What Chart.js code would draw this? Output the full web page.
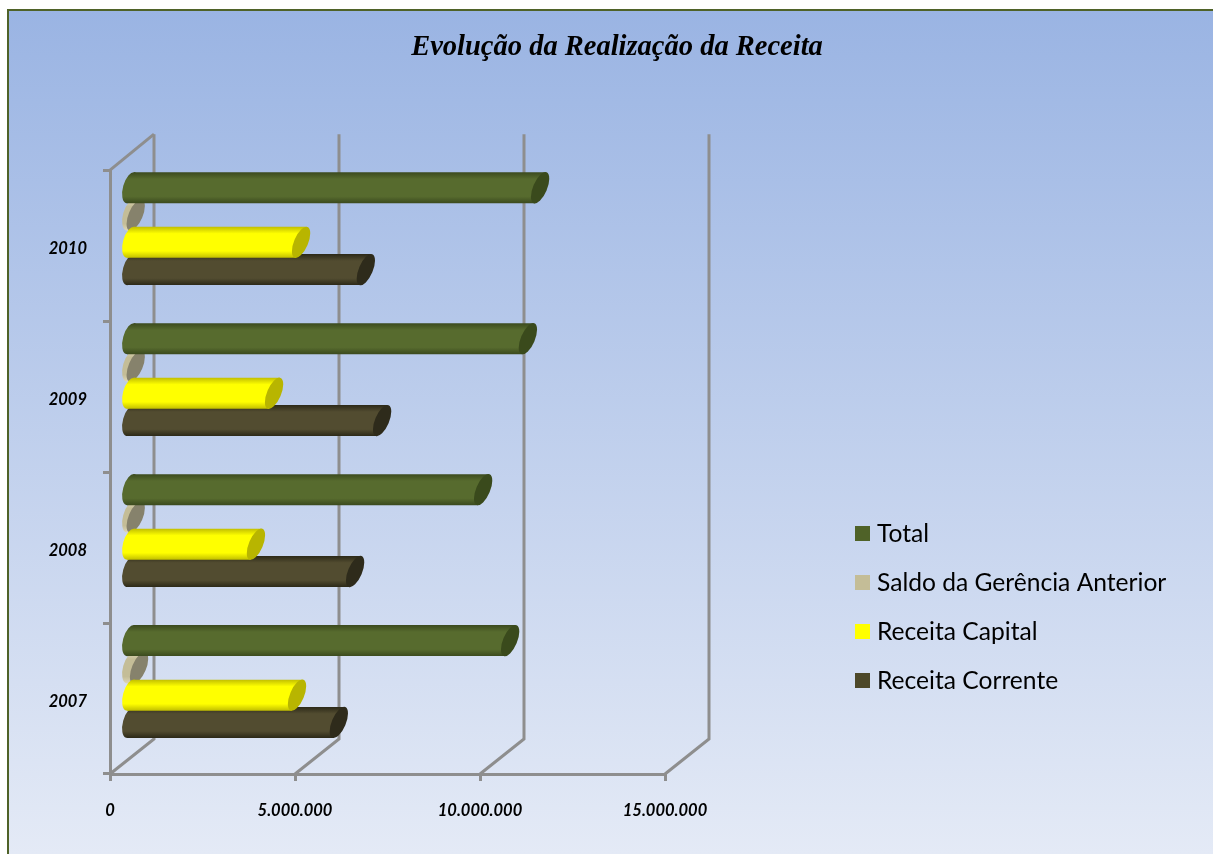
<!DOCTYPE html>
<html>
<head>
<meta charset="utf-8">
<title>Evolução da Realização da Receita</title>
<script src="https://cdn.jsdelivr.net/npm/chart.js@4"></script>
<style>
    html, body { margin: 0; padding: 0; background: #fff; }
    canvas { display: block; }
</style>
</head>
<body>
<canvas id="receita" width="1213" height="854"></canvas>
<script>
const anos = ['2010', '2009', '2008', '2007'];
const total = [11030000, 10700000, 9490000, 10220000];
const saldo = [100000, 100000, 100000, 190000];
const capital = [4570000, 3840000, 3350000, 4460000];
const corrente = [6320000, 6760000, 6030000, 5590000];
const xTicks = [0, 5000000, 10000000, 15000000];
const xTickLabels = ['0', '5.000.000', '10.000.000', '15.000.000'];

// legend colour, cylinder edge, cylinder middle, end cap
const cores = [
    ['#4f6228', '#3b4a1e', '#576b2e', '#3a4a1c'],
    ['#c4bd97', '#ddd6b6', '#c4bd97', '#86826c'],
    ['#ffff00', '#c2bf00', '#ffff00', '#b8b500'],
    ['#4d4829', '#2c2918', '#524c30', '#2e2b1b']
];
const grey = '#8e8e8e';
const depthX = 44, depthY = -35, wallTop = -36;   // back wall offset
const midX = 22, midY = -17;                      // bars stand half way in
const endCap = { a: 16.7, b: 7, tilt: 0.4, top: 5.4 };
const startCap = { a: 16, b: 7.5, tilt: 0.273, top: 3.5, shift: -3 };

// the 3D walls behind the bars
const walls = {
    id: 'walls',
    beforeDraw(chart) {
        const c = chart.ctx, w = chart.width, h = chart.height;
        c.save();
        c.fillStyle = '#fff';
        c.fillRect(0, 0, w, h);
        const g = c.createLinearGradient(0, 10, 0, h);
        g.addColorStop(0, '#9ab4e3');
        g.addColorStop(1, '#e4eaf6');
        c.fillStyle = g;
        c.fillRect(8, 10, w, h);
        c.fillStyle = '#4f6228';
        c.fillRect(7, 9, w, 2);
        c.fillRect(7, 9, 2, h);
        c.restore();
        chart.titleBlock.left = 21;
        chart.titleBlock.right = 1213;
    },
    beforeDatasetsDraw(chart) {
        const c = chart.ctx, x = chart.scales.x, a = chart.chartArea;
        c.save();
        c.strokeStyle = grey;
        c.lineWidth = 3;
        xTicks.forEach(v => {
            const px = x.getPixelForValue(v);
            c.beginPath();
            c.moveTo(px, a.bottom);
            c.lineTo(px + depthX, a.bottom + depthY);
            c.lineTo(px + depthX, a.top + wallTop);
            c.stroke();
        });
        c.beginPath();
        c.moveTo(a.left, a.top);
        c.lineTo(a.left + depthX, a.top + wallTop);
        c.stroke();
        c.restore();
    }
};

function cap(c, x, y, s) {
    c.beginPath();
    c.ellipse(x, y, s.b, s.a, s.tilt, 0, Math.PI * 2);
    c.fill();
}

const cylinders = {
    id: 'cylinders',
    beforeDatasetDraw() {
        return false;
    },
    afterDatasetsDraw(chart) {
        const c = chart.ctx;
        c.save();
        [3, 1, 2, 0].forEach(i => {
            chart.getDatasetMeta(i).data.forEach(el => {
                const y = el.y + midY, x0 = el.base + midX + startCap.shift, x1 = el.x + midX;
                const hh = el.height / 2;
                const g = c.createLinearGradient(0, y - hh, 0, y + hh);
                g.addColorStop(0, cores[i][1]);
                g.addColorStop(0.22, cores[i][2]);
                g.addColorStop(0.78, cores[i][2]);
                g.addColorStop(1, cores[i][1]);
                c.fillStyle = g;
                cap(c, x0, y, startCap);
                c.beginPath();
                c.moveTo(x0 + startCap.top, y - hh);
                c.lineTo(x1 + endCap.top, y - hh);
                c.lineTo(x1 - endCap.top, y + hh);
                c.lineTo(x0 - startCap.top, y + hh);
                c.closePath();
                c.fill();
                c.fillStyle = cores[i][3];
                cap(c, x1, y, endCap);
            });
        });
        c.restore();
    }
};

const legenda = {
    id: 'legenda',
    afterDraw(chart) {
        const c = chart.ctx;
        c.save();
        c.font = '24.6px Lato';
        c.textBaseline = 'middle';
        chart.data.datasets.forEach((d, i) => {
            const y = 533 + i * 49;
            c.fillStyle = cores[i][0];
            c.fillRect(855, y - 7, 15, 15);
            c.fillStyle = '#000';
            c.fillText(d.label, 877, y + 1);
        });
        c.restore();
    }
};

new Chart(document.getElementById('receita'), {
    type: 'bar',
    plugins: [walls, cylinders, legenda],
    data: {
        labels: anos,
        datasets: [
            { label: 'Total', data: total },
            { label: 'Saldo da Gerência Anterior', data: saldo },
            { label: 'Receita Capital', data: capital },
            { label: 'Receita Corrente', data: corrente }
        ]
    },
    options: {
        indexAxis: 'y',
        responsive: false,
        animation: false,
        categoryPercentage: 0.723,
        barPercentage: 1.135,
        layout: { padding: { left: 0, right: 548, top: 0, bottom: 0 } },
        plugins: {
            legend: { display: false },
            tooltip: { enabled: false },
            title: {
                display: true,
                text: 'Evolução da Realização da Receita',
                color: '#000',
                font: { family: 'Liberation Serif', size: 28.5, style: 'italic', weight: 'bold' },
                padding: { top: 31, bottom: 105 }
            }
        },
        scales: {
            x: {
                type: 'linear',
                min: 0,
                max: 15000000,
                afterBuildTicks(s) {
                    s.ticks = xTicks.map(v => ({ value: v }));
                },
                afterFit(s) {
                    s.height = 80;
                },
                grid: { drawOnChartArea: false, color: grey, lineWidth: 3, tickLength: 7 },
                border: { color: grey, width: 3 },
                ticks: {
                    maxRotation: 0,
                    autoSkip: false,
                    padding: 20,
                    color: '#000',
                    font: { family: 'Lato', size: 16.5, style: 'italic', weight: 'bold' },
                    callback(v) {
                        return xTickLabels[xTicks.indexOf(v)];
                    }
                }
            },
            y: {
                afterFit(s) {
                    s.width = 110;
                },
                grid: { drawOnChartArea: false, color: grey, lineWidth: 3, tickLength: 7 },
                border: { color: grey, width: 3 },
                ticks: {
                    padding: 16,
                    labelOffset: 3,
                    color: '#000',
                    font: { family: 'Lato', size: 16.5, style: 'italic', weight: 'bold' }
                }
            }
        }
    }
});
</script>
</body>
</html>
